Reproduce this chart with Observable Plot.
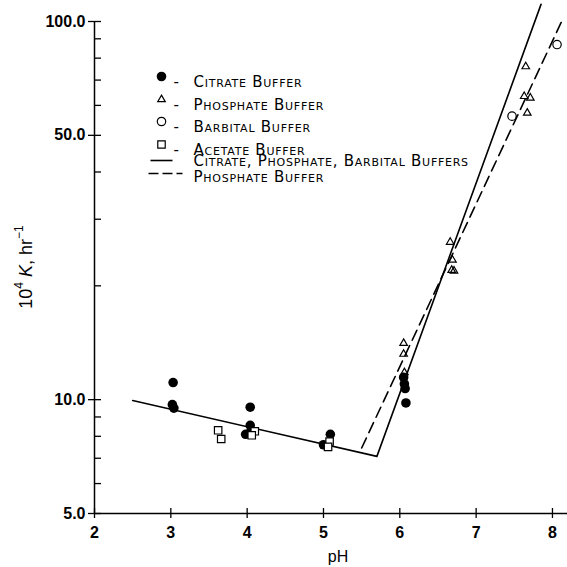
<!DOCTYPE html>
<html><head><meta charset="utf-8">
<script src="https://cdn.jsdelivr.net/npm/d3@7"></script>
<script src="https://cdn.jsdelivr.net/npm/@observablehq/plot@0.6"></script>
<style>body{margin:0;background:#fff;} .leg text{letter-spacing:0.75px;}</style>
</head><body><div id="chart"></div>
<script>
// Citrate buffer (filled circles)
const citratePH = [3.03, 3.02, 3.04, 4.04, 4.04, 3.98, 4.03, 5.09, 5.0, 6.05, 6.06, 6.07, 6.08];
const citrateK  = [11.1, 9.7, 9.5, 9.55, 8.55, 8.1, 8.15, 8.1, 7.6, 11.45, 11.0, 10.7, 9.8];
// Phosphate buffer (open triangles)
const phosphatePH = [6.05, 6.05, 6.06, 6.66, 6.69, 6.68, 6.71, 7.65, 7.63, 7.71, 7.67];
const phosphateK  = [14.1, 13.2, 11.8, 26.1, 23.4, 22.0, 21.9, 76.0, 63.4, 62.8, 57.3];
// Barbital buffer (open circles)
const barbitalPH = [7.47, 8.06];
const barbitalK  = [56.2, 86.9];
// Acetate buffer (open squares)
const acetatePH = [3.62, 3.66, 4.1, 4.06, 5.08, 5.06];
const acetateK  = [8.3, 7.87, 8.25, 8.05, 7.75, 7.5];
// Fitted lines
const solidPH = [2.5, 5.7, 7.85];
const solidK  = [9.95, 7.08, 111];
const dashPH = [5.5, 8.13];
const dashK  = [7.45, 101];
// Axis ticks
const xTicks = [2, 3, 4, 5, 6, 7, 8];
const yMajor = [5, 10, 50, 100];
const yMinor = [5, 6, 7, 8, 9, 10, 20, 30, 40, 50, 60, 70, 80, 90, 100];
// Legend labels
const legendLabels = ["Citrate Buffer", "Phosphate Buffer", "Barbital Buffer", "Acetate Buffer"];
const lineLabels = ["Citrate, Phosphate, Barbital Buffers", "Phosphate Buffer"];

const zip = (a, b) => a.map((v, i) => ({x: v, y: b[i]}));
const citrate = zip(citratePH, citrateK);
const phosphate = zip(phosphatePH, phosphateK);
const barbital = zip(barbitalPH, barbitalK);
const acetate = zip(acetatePH, acetateK);
const solid = zip(solidPH, solidK);
const dashed = zip(dashPH, dashK);

const hline = (half) => ({draw(ctx) { ctx.moveTo(-half, 0); ctx.lineTo(half, 0); }});
const legendFont = {fontFamily: "DejaVu Sans", fontSize: 15, fontVariant: "small-caps", fill: "black", textAnchor: "start", className: "leg"};
const legRows = [55, 78, 100, 123];
const legSyms = [
  {symbol: "circle", r: 4.8, fill: "black", stroke: "none"},
  {symbol: "triangle", r: 2.8, fill: "none", stroke: "black", strokeWidth: 1.2},
  {symbol: "circle", r: 4.2, fill: "none", stroke: "black", strokeWidth: 1.2},
  {symbol: "square", r: 4.2, fill: "white", stroke: "black", strokeWidth: 1.2}
];
const legendMarks = [];
legendLabels.forEach((lab, i) => {
  legendMarks.push(Plot.dot([0], {frameAnchor: "top-left", dx: 67, dy: legRows[i], ...legSyms[i]}));
  legendMarks.push(Plot.text(["-"], {frameAnchor: "top-left", dx: 79, dy: legRows[i], ...legendFont}));
  legendMarks.push(Plot.text([lab], {frameAnchor: "top-left", dx: 99, dy: legRows[i], ...legendFont}));
});
legendMarks.push(Plot.dot([0], {frameAnchor: "top-left", dx: 67, dy: 139, symbol: hline(11), stroke: "black", strokeWidth: 1.6, r: 5}));
legendMarks.push(Plot.dot([0], {frameAnchor: "top-left", dx: 71, dy: 152, symbol: hline(17), stroke: "black", strokeWidth: 1.6, strokeDasharray: "10,4", r: 5}));
legendMarks.push(Plot.text([lineLabels[0]], {frameAnchor: "top-left", dx: 99, dy: 134, ...legendFont}));
legendMarks.push(Plot.text([lineLabels[1]], {frameAnchor: "top-left", dx: 99, dy: 150, ...legendFont}));

const chart = Plot.plot({
  width: 567, height: 567,
  marginLeft: 94, marginRight: 0, marginTop: 21, marginBottom: 54,
  style: {fontFamily: "Liberation Sans, Arial, sans-serif", fontSize: "16px", color: "black", background: "white"},
  x: {domain: [2, 8.197]},
  y: {type: "log", domain: [5, 100]},
  marks: [
    Plot.ruleY([5], {stroke: "black", strokeWidth: 1.5}),
    Plot.ruleX([2], {stroke: "black", strokeWidth: 1.5}),
    Plot.axisX({ticks: xTicks, tickSize: 5, tickPadding: 8, tickFormat: d => String(d), label: null, fontSize: 16, fontWeight: "bold", strokeWidth: 1.3}),
    Plot.axisX({ticks: xTicks, tickSize: -5, tickFormat: () => "", label: null, strokeWidth: 1.3}),
    Plot.axisY({ticks: yMajor, tickSize: 6, tickPadding: 3, tickFormat: d => d.toFixed(1), label: null, fontSize: 16, fontWeight: "bold", strokeWidth: 1.3}),
    Plot.axisY({ticks: yMinor, tickSize: -7, tickFormat: () => "", label: null, strokeWidth: 1.3}),
    Plot.line(solid, {x: "x", y: "y", stroke: "black", strokeWidth: 1.6}),
    Plot.line(dashed, {x: "x", y: "y", stroke: "black", strokeWidth: 1.6, strokeDasharray: "11,6"}),
    Plot.dot(citrate, {x: "x", y: "y", r: 4.8, fill: "black", stroke: "none"}),
    Plot.dot(acetate, {x: "x", y: "y", symbol: "square", r: 4.2, fill: "white", stroke: "black", strokeWidth: 1.2}),
    Plot.dot(phosphate, {x: "x", y: "y", symbol: "triangle", r: 2.8, fill: "none", stroke: "black", strokeWidth: 1.2}),
    Plot.dot(barbital, {x: "x", y: "y", symbol: "circle", r: 4.2, fill: "none", stroke: "black", strokeWidth: 1.2}),
    Plot.text(["pH"], {frameAnchor: "bottom", dx: 7, dy: 48, fontSize: 16, fill: "black"}),
    ...legendMarks
  ]
});

// Y axis title with italic K and superscripts
const svg = d3.select(chart);
const t = svg.append("text")
  .attr("transform", "translate(27,267) rotate(-90)")
  .attr("text-anchor", "middle")
  .attr("dominant-baseline", "middle")
  .attr("font-family", "Liberation Sans, Arial, sans-serif")
  .attr("font-size", 18)
  .attr("fill", "black");
t.append("tspan").text("10");
t.append("tspan").attr("dy", -7).attr("font-size", 12).text("4");
t.append("tspan").attr("dy", 7).text(" ");
t.append("tspan").attr("font-style", "italic").text("K");
t.append("tspan").text(", hr");
t.append("tspan").attr("dy", -7).attr("font-size", 12).text("−1");
document.getElementById("chart").appendChild(chart);
</script></body></html>
